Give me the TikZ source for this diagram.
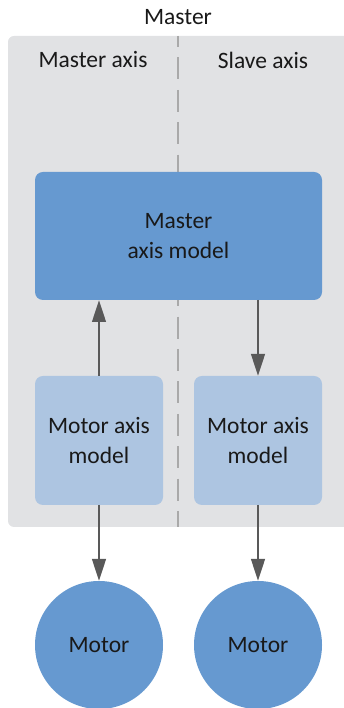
\documentclass[tikz,border=0pt]{standalone}
\usepackage{fontspec}
\setmainfont{Carlito}
\usetikzlibrary{positioning, arrows.meta}

\definecolor{panelgrey}{HTML}{E1E2E4}
\definecolor{dashgrey}{HTML}{A9A9A9}
\definecolor{masterblue}{HTML}{6699D0}
\definecolor{axisblue}{HTML}{ADC5E1}
\definecolor{arrowgrey}{HTML}{595959}

\begin{document}
\begin{tikzpicture}[x=1pt, y=1pt, node distance = 76pt,
font=\fontsize{23.5}{29.5}\selectfont, text=black!90,
MasterStyle/.style={fill=masterblue, draw=none, rounded corners=8pt,
                minimum width=287pt, minimum height=128pt, align=center,
                outer sep=0pt},
AxisStyle/.style={fill=axisblue, draw=none, rounded corners=8pt,
                minimum width=128pt, minimum height=129pt, align=center,
                outer sep=0pt},
MotorStyle/.style={circle, fill=masterblue, draw=none,
                minimum size=128pt, inner sep=0pt, outer sep=0pt},
ArrStyle/.style={draw=arrowgrey, line width=2.7pt,
                -{Triangle[length=22pt, width=13.5pt]}},]
\useasboundingbox (0, 0) rectangle (344, 708);

% panel and divider
\fill [panelgrey, rounded corners=6pt] (8, 181) rectangle (360, 672);
\draw [dashgrey, line width=2.3pt, dash pattern=on 22pt off 10.4pt,
       dash phase=11pt] (178, 672) -- (178, 181);

\node at (178, 691) (title) {Master};
\node at (93, 648) (lhead) {Master axis};
\node at (263, 648) (rhead) {Slave axis};

\node [MasterStyle] at (178.5, 472) (master) {Master\\axis model};
\node [AxisStyle, below right=76pt and 0pt of master.south west] (ax1)
      {Motor axis\\model};
\node [AxisStyle, below left=76pt and 0pt of master.south east] (ax2)
      {Motor axis\\model};
\node [MotorStyle, below=of ax1] (mot1) {Motor};
\node [MotorStyle, below=of ax2] (mot2) {Motor};

\draw [ArrStyle] (ax1) -- (ax1 |- master.south);
\draw [ArrStyle] (ax2 |- master.south) -- (ax2);
\draw [ArrStyle] (ax1) -- (mot1);
\draw [ArrStyle] (ax2) -- (mot2);
\end{tikzpicture}
\end{document}
